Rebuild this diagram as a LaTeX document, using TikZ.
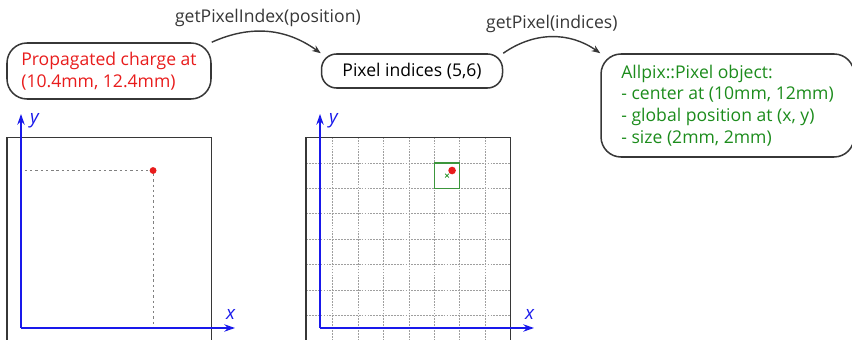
\documentclass[tikz,border=0pt]{standalone}
\usepackage{fontspec}
\setmainfont{Open Sans}
\usetikzlibrary{arrows.meta, positioning}
\definecolor{ChargeRed}{RGB}{232,28,28}
\definecolor{PixelGreen}{RGB}{28,140,28}
\definecolor{BoxGreen}{RGB}{60,150,60}
\definecolor{AxisBlue}{RGB}{25,25,235}
\definecolor{EdgeGray}{RGB}{55,55,55}

\begin{document}
\begin{tikzpicture}[
    font=\fontsize{15}{18.5}\selectfont,
    msg/.style={draw=EdgeGray, line width=1.3pt, rounded corners=0.6cm, align=left, inner sep=0pt},
    call/.style={-{Stealth[length=2.6mm, width=2mm]}, line width=1.2pt, EdgeGray},
    axis/.style={-{Stealth[length=3.2mm, width=2.2mm]}, line width=1.6pt, AxisBlue},
    frame/.style={draw=EdgeGray, line width=1pt},
    guide/.style={gray, dash pattern=on 2pt off 2.5pt, line width=0.7pt},
    gridline/.style={gray!75, dash pattern=on 1.5pt off 1pt, line width=0.5pt},
    axlabel/.style={text=AxisBlue, font=\fontsize{16}{18}\selectfont\itshape, inner sep=0pt},
]
\path[use as bounding box, clip] (0,0) rectangle (25.56,10.2);

% ================= top row: calls =================
\node[msg, text=ChargeRed, minimum width=6.12cm, minimum height=1.68cm] (charge) at (3.27,8.07)
    {Propagated charge at\\(10.4mm, 12.4mm)};
\node[msg, rounded corners=0.45cm, minimum width=5.43cm, minimum height=1.02cm,
      right=3.27cm of charge] (idx) {Pixel indices (5,6)};
\node[msg, text=PixelGreen, minimum width=7.59cm, minimum height=3.09cm,
      right=2.91cm of idx.north east, anchor=north west] (pix)
    {Allpix::Pixel object:\\- center at (10mm, 12mm)\\- global position at (x, y)\\- size (2mm, 2mm)};
\draw[call] (charge.north east) to[bend left=30] node[midway, above] {getPixelIndex(position)} (idx.north west);
\draw[call] (idx.north east) to[bend left=35] node[midway, above] {getPixel(indices)} (pix.north west);

% ================= left: local position =================
\begin{scope}[shift={(0.63cm,0.36cm)}, x=0.381cm, y=0.381cm]
    \draw[frame] (-1.1,-1) rectangle (15,15);
    \draw[guide] (0.3,12.4) -- (10.4,12.4) -- (10.4,0);
    \fill[ChargeRed] (10.4,12.4) circle (0.27);
    \draw[axis] (0,0) -- (16.85,0);
    \draw[axis] (0,0) -- (0,16.85);
    \node[axlabel] (lx) at (16.5,1.06) {x};
    \node[axlabel] (ly) at (1.06,16.3) {y};
\end{scope}

% ================= right: pixel grid =================
\begin{scope}[shift={(9.6cm,0.36cm)}, x=0.381cm, y=0.381cm]
    \foreach \g in {1,3,...,13} {
        \draw[gridline] (\g,-1) -- (\g,15);
        \draw[gridline] (-1.1,\g) -- (15,\g);
    }
    \draw[frame] (-1.1,-1) rectangle (15,15);
    \draw[BoxGreen, line width=1.3pt] (9,11) rectangle (11,13);
    \fill[ChargeRed] (10.4,12.4) circle (0.3);
    % pixel center
    \draw[PixelGreen, line width=0.7pt] (9.85,11.85) -- (10.15,12.15) (9.85,12.15) -- (10.15,11.85);
    \draw[axis] (0,0) -- (16.85,0);
    \draw[axis] (0,0) -- (0,16.85);
    \node[axlabel] (rx) at (16.5,1.06) {x};
    \node[axlabel] (ry) at (1.06,16.3) {y};
\end{scope}

\end{tikzpicture}
\end{document}
